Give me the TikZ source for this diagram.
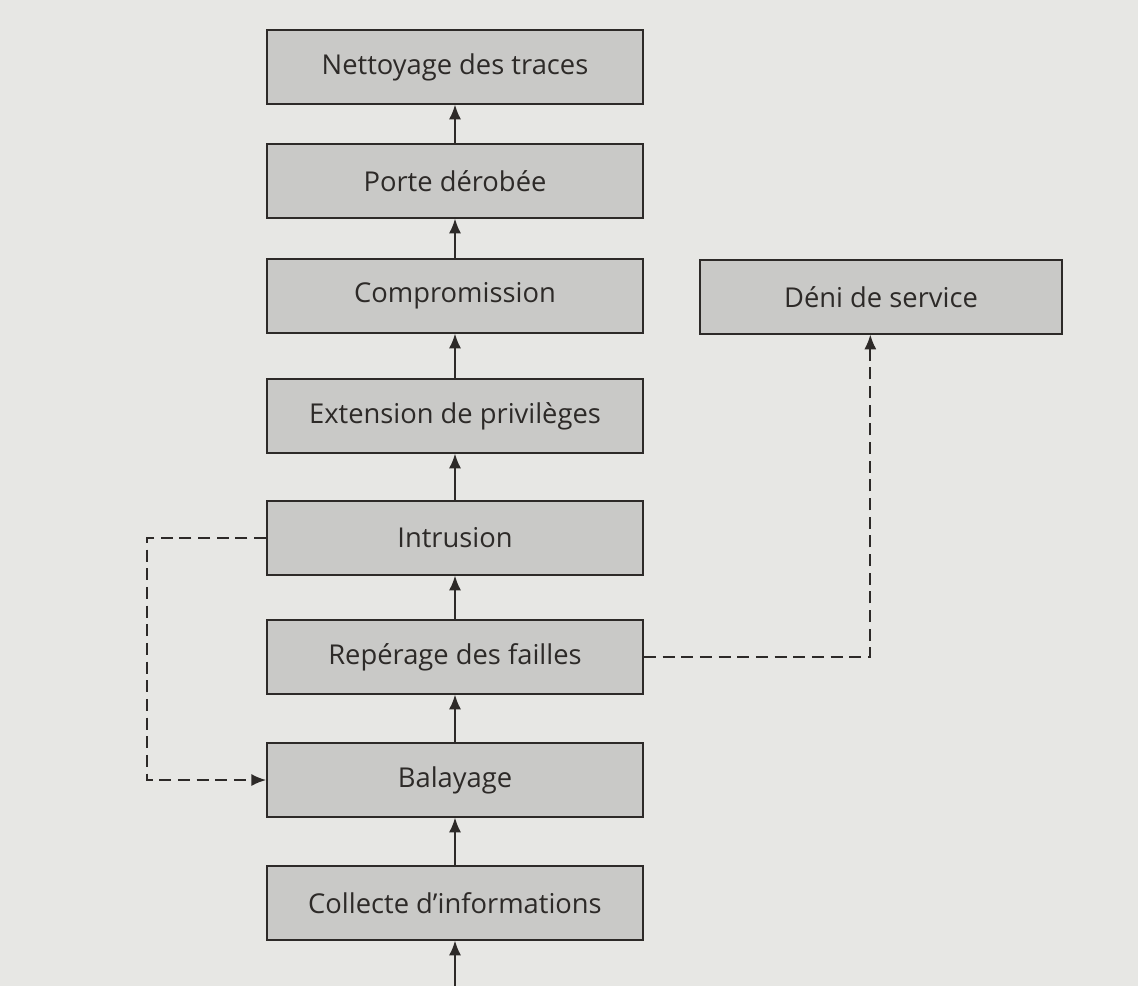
\documentclass[tikz,border=0pt]{standalone}
\usepackage{fontspec}
\setmainfont{Open Sans}
\usepackage{tikz}
\usetikzlibrary{arrows.meta}

\definecolor{paper}{RGB}{231,231,228}
\definecolor{boxfill}{RGB}{201,201,199}
\definecolor{ink}{RGB}{45,42,40}

\tikzset{
  stage/.style={draw=ink, line width=1.4pt, fill=boxfill, minimum width=282pt, minimum height=55pt, inner sep=0.75pt, font=\fontsize{20.5}{23}\selectfont, text=ink},
  flow/.style={draw=ink, line width=1.4pt, -{Latex[length=11pt,width=9pt]}},
  sideflow/.style={draw=ink, line width=1.3pt, dash pattern=on 9pt off 5pt, -{Latex[length=11pt,width=9pt]}}
}

\begin{document}
\begin{tikzpicture}[x=0.75pt,y=0.75pt,yscale=-1,xscale=1]
%set diagram left start at 0, and has height of 986
\path[fill=paper] (0,0) rectangle (1138,986);
\useasboundingbox (0,0) rectangle (1138,986);

%Shape: Rectangle
\node [stage] (nettoyage) at (455,67) {Nettoyage des traces};
\node [stage] (porte) at (455,181) {Porte dérobée};
\node [stage] (compromission) at (455,296) {Compromission};
\node [stage] (extension) at (455,416) {Extension de privilèges};
\node [stage] (intrusion) at (455,538) {Intrusion};
\node [stage] (reperage) at (455,657) {Repérage des failles};
\node [stage] (balayage) at (455,780) {Balayage};
\node [stage] (collecte) at (455,903) {Collecte d’informations};
%Shape: Rectangle
\node [stage, minimum width=271pt] (deni) at (881,297) {Déni de service};

%Straight Lines
\coordinate (entree) at (455,986);
\draw [flow] (entree) -- (collecte);
\draw [flow] (collecte) -- (balayage);
\draw [flow] (balayage) -- (reperage);
\draw [flow] (reperage) -- (intrusion);
\draw [flow] (intrusion) -- (extension);
\draw [flow] (extension) -- (compromission);
\draw [flow] (compromission) -- (porte);
\draw [flow] (porte) -- (nettoyage);

%Dashed Lines
\coordinate (retour) at (147,538);
\draw [sideflow] (intrusion.west) -- (retour) |- (balayage.west);
\draw [sideflow] (reperage.east) -| ([xshift=-8pt]deni.south);

\end{tikzpicture}
\end{document}
